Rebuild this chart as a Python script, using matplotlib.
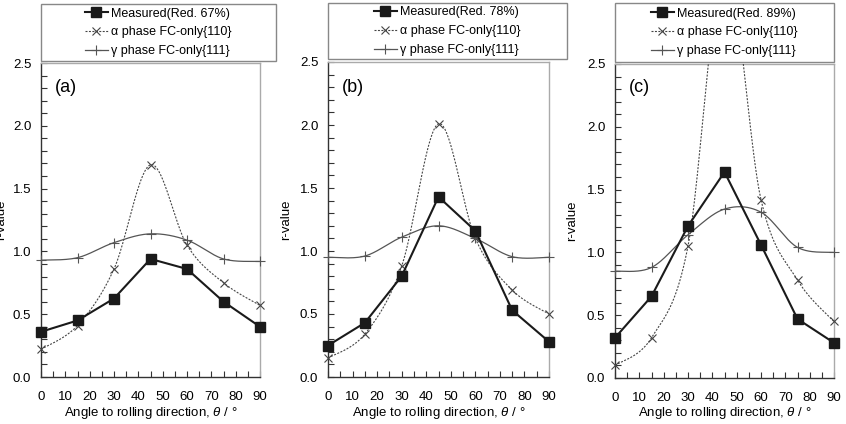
import numpy as np
import matplotlib
matplotlib.use("Agg")
import matplotlib.pyplot as plt
from matplotlib.lines import Line2D
from matplotlib.patches import Rectangle

plt.rcParams['font.family'] = ['Liberation Sans', 'DejaVu Sans']
plt.rcParams['mathtext.fontset'] = 'custom'
plt.rcParams['mathtext.it'] = 'Liberation Sans:italic'
plt.rcParams['mathtext.rm'] = 'Liberation Sans'

# angles (deg)
angle = [0, 15, 30, 45, 60, 75, 90]

# panel (a) Red. 67%
meas_a = [0.36, 0.45, 0.625, 0.94, 0.86, 0.60, 0.40]
alpha_a = [0.22, 0.41, 0.86, 1.69, 1.05, 0.75, 0.57]
gamma_a = [0.93, 0.95, 1.07, 1.14, 1.09, 0.94, 0.92]

# panel (b) Red. 78%
meas_b = [0.25, 0.43, 0.80, 1.43, 1.16, 0.53, 0.28]
alpha_b = [0.15, 0.34, 0.88, 2.01, 1.10, 0.69, 0.50]
gamma_b = [0.95, 0.96, 1.11, 1.20, 1.10, 0.955, 0.95]

# panel (c) Red. 89%
meas_c = [0.32, 0.65, 1.21, 1.64, 1.06, 0.47, 0.28]
alpha_c = [0.10, 0.32, 1.05, 3.3, 1.42, 0.78, 0.45]
gamma_c = [0.85, 0.88, 1.14, 1.345, 1.32, 1.04, 1.00]

panels = [("(a)", "67%", meas_a, alpha_a, gamma_a),
          ("(b)", "78%", meas_b, alpha_b, gamma_b),
          ("(c)", "89%", meas_c, alpha_c, gamma_c)]

# pixel boxes: axes (left, right, top, bottom), legend (left, right, top, bottom)
ax_px = [(41, 260, 63, 377), (328, 549, 62, 377), (615, 834, 64, 378)]
leg_px = [(41, 276, 4, 61), (328, 567, 3, 59), (615, 834, 3, 62)]
ylab_off = [40, 42, 43]

W, H = 846, 424


def smooth(x, y, n=40):
    # Excel-style smoothed line (bezier through points)
    p = np.column_stack([x, y]).astype(float)
    out = []
    for i in range(len(p) - 1):
        p0 = p[max(i - 1, 0)]
        p1 = p[i]
        p2 = p[i + 1]
        p3 = p[min(i + 2, len(p) - 1)]
        c1 = p1 + (p2 - p0) / 6
        c2 = p2 - (p3 - p1) / 6
        t = np.linspace(0, 1, n)[:, None]
        seg = ((1 - t) ** 3 * p1 + 3 * (1 - t) ** 2 * t * c1
               + 3 * (1 - t) * t ** 2 * c2 + t ** 3 * p2)
        out.append(seg if i == 0 else seg[1:])
    s = np.vstack(out)
    return s[:, 0], s[:, 1]


fig = plt.figure(figsize=(W / 100, H / 100), dpi=100)

for (tag, red, meas, alpha, gamma), (l, r, t, b), (ll, lr, lt, lb), yo in zip(panels, ax_px, leg_px, ylab_off):
    ax = fig.add_axes([l / W, 1 - b / H, (r - l) / W, (b - t) / H])
    x = np.array(angle)

    # measured
    ax.plot(x, meas, color='#1a1a1a', lw=1.5, marker='s', ms=7,
            clip_on=False, zorder=5)

    # alpha phase FC-only{110}
    sx, sy = smooth(x, alpha)
    ax.plot(sx, sy, color='#444444', lw=0.8, ls=(0, (1.8, 1.3)), zorder=3)
    a = np.array(alpha)
    m = a <= 2.5
    ax.plot(x[m], a[m], ls='none', marker='x', ms=6, mew=0.8,
            color='#444444', clip_on=False, zorder=4)

    # gamma phase FC-only{111}
    sx, sy = smooth(x, gamma)
    ax.plot(sx, sy, color='#555555', lw=0.9, zorder=3)
    ax.plot(x, gamma, ls='none', marker='+', ms=7, mew=0.8,
            color='#555555', clip_on=False, zorder=4)

    ax.set_xlim(0, 90)
    ax.set_ylim(0, 2.5)
    ax.set_xticks(np.arange(0, 91, 10))
    ax.set_xticks(np.arange(0, 91, 5), minor=True)
    ax.set_yticks(np.arange(0, 2.51, 0.5))
    ax.set_yticks(np.arange(0, 2.51, 0.1), minor=True)
    ax.set_yticklabels(['0.0', '0.5', '1.0', '1.5', '2.0', '2.5'])
    ax.tick_params(which='both', direction='in', length=4, width=0.8,
                   color='#333333', top=False, right=False)
    ax.tick_params(axis='x', which='major', labelsize=9.5, pad=10)
    ax.tick_params(axis='y', which='major', labelsize=9.5, pad=7)
    for s in ['left', 'bottom']:
        ax.spines[s].set_color('#333333')
        ax.spines[s].set_linewidth(1.0)
    for s in ['top', 'right']:
        ax.spines[s].set_color('#aaaaaa')
        ax.spines[s].set_linewidth(1.0)

    ax.set_xlabel(r'Angle to rolling direction, $\theta$ / °', fontsize=9.5)
    ax.xaxis.set_label_coords(0.5, -(413 - b) / (b - t))
    ax.xaxis.label.set_va('center')
    ax.set_ylabel('r-value', fontsize=9.5)
    ax.yaxis.set_label_coords(-yo / (r - l), 0.5)
    ax.yaxis.label.set_va('center')

    ax.text(14 / (r - l), (b - 88) / (b - t), tag,
            transform=ax.transAxes, fontsize=13, va='center', ha='left')

    # legend box
    fig.patches.append(Rectangle((ll / W, 1 - lb / H), (lr - ll) / W, (lb - lt) / H,
                                 transform=fig.transFigure, fill=False,
                                 edgecolor='#888888', lw=1.0))
    handles = [
        Line2D([], [], color='#1a1a1a', lw=1.5, marker='s', ms=7),
        Line2D([], [], color='#444444', lw=0.8, ls=(0, (1.8, 1.3)), marker='x', ms=6, mew=0.8),
        Line2D([], [], color='#555555', lw=0.9, marker='+', ms=7, mew=0.8),
    ]
    labels = ['Measured(Red. %s)' % red, 'α phase FC-only{110}', 'γ phase FC-only{111}']
    fig.legend(handles, labels, loc='center',
               bbox_to_anchor=((ll + lr) / 2 / W, 1 - (lt + lb) / 2 / H),
               frameon=False, fontsize=9, handlelength=1.8, handletextpad=0.3,
               labelspacing=0.55, borderpad=0.2)

fig.savefig('out.png', dpi=100)
